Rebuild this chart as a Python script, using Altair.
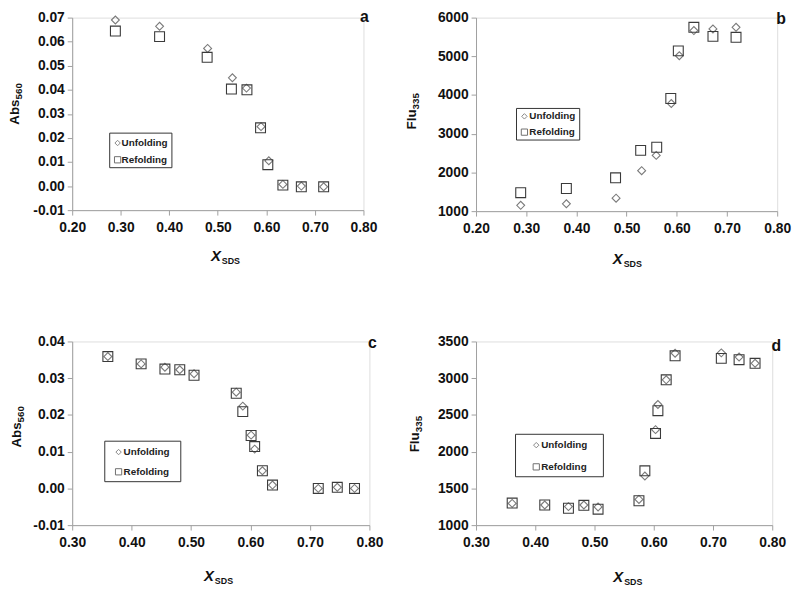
import altair as alt
import pandas as pd

# ---------------- data ----------------
series_names = ["Unfolding", "Refolding"]

ab_x_unf = [0.289, 0.380, 0.479, 0.530, 0.559, 0.589, 0.605, 0.634, 0.672, 0.718]
ab_x_ref = [0.289, 0.380, 0.478, 0.528, 0.560, 0.588, 0.603, 0.634, 0.672, 0.718]
a_y_unf = [0.0690, 0.0664, 0.0572, 0.0450, 0.0407, 0.0247, 0.0105, 0.0007, 0.0000, -0.0003]
a_y_ref = [0.0644, 0.0621, 0.0535, 0.0403, 0.0400, 0.0242, 0.0089, 0.0004, -0.0003, -0.0003]
b_y_unf = [1150, 1190, 1335, 2045, 2440, 3780, 5015, 5665, 5707, 5750]
b_y_ref = [1477, 1585, 1860, 2570, 2650, 3910, 5140, 5750, 5515, 5490]

c_x = [0.360, 0.416, 0.456, 0.481, 0.505, 0.576, 0.587, 0.601, 0.607, 0.620, 0.637, 0.714, 0.746, 0.775]
c_y_unf = [0.0359, 0.0339, 0.0330, 0.0323, 0.0312, 0.0262, 0.0224, 0.0145, 0.0107, 0.0048, 0.0009, 0.0000, 0.0003, 0.0000]
c_y_ref = [0.0359, 0.0339, 0.0325, 0.0323, 0.0308, 0.0259, 0.0209, 0.0144, 0.0114, 0.0048, 0.0009, 0.0000, 0.0003, 0.0000]

d_x = [0.361, 0.416, 0.456, 0.482, 0.506, 0.575, 0.585, 0.603, 0.607, 0.621, 0.636, 0.714, 0.744, 0.771]
d_y_unf = [1296, 1274, 1252, 1274, 1248, 1350, 1668, 2300, 2642, 2978, 3340, 3345, 3288, 3203]
d_y_ref = [1300, 1274, 1230, 1270, 1217, 1332, 1739, 2248, 2558, 2978, 3305, 3270, 3252, 3203]

x_ticks_top = [0.20, 0.30, 0.40, 0.50, 0.60, 0.70, 0.80]
x_ticks_bottom = [0.30, 0.40, 0.50, 0.60, 0.70, 0.80]
a_y_ticks = [-0.01, 0.00, 0.01, 0.02, 0.03, 0.04, 0.05, 0.06, 0.07]
b_y_ticks = [1000, 2000, 3000, 4000, 5000, 6000]
c_y_ticks = [-0.01, 0.00, 0.01, 0.02, 0.03, 0.04]
d_y_ticks = [1000, 1500, 2000, 2500, 3000, 3500]

FONT = "Liberation Sans"


def make_df(xu, yu, xr, yr):
    rows = []
    for x, y in zip(xu, yu):
        rows.append({"x": x, "y": y, "series": series_names[0]})
    for x, y in zip(xr, yr):
        rows.append({"x": x, "y": y, "series": series_names[1]})
    return pd.DataFrame(rows)


one = pd.DataFrame({"k": [0]})


def panel(df, xdom, xticks, ydom, yticks, yfmt, W, H, ymain, ysub, letter,
          letter_pos, leg, ytitle_x, ytitle_y, xt_off, xt_base):
    label_expr = "replace(format(datum.value, '%s'), '\u2212', '-')" % yfmt
    xax = alt.Axis(values=xticks, format=".2f", grid=False, labelFont=FONT,
                   labelFontSize=14, labelFontWeight="bold", labelColor="#111",
                   domainColor="#a0a0a0", tickColor="#a0a0a0", tickSize=5,
                   labelPadding=6, labelFlush=False)
    yax = alt.Axis(values=yticks, labelExpr=label_expr, grid=False, labelFont=FONT,
                   labelFontSize=14, labelFontWeight="bold", labelColor="#111",
                   domainColor="#a0a0a0", tickColor="#a0a0a0", tickSize=5,
                   labelPadding=3, labelFlush=False)
    pts = alt.Chart(df).mark_point(filled=False, strokeWidth=1.1, opacity=1).encode(
        x=alt.X("x:Q", title=None, axis=xax,
                scale=alt.Scale(domain=xdom, nice=False, zero=False)),
        y=alt.Y("y:Q", title=None, axis=yax,
                scale=alt.Scale(domain=ydom, nice=False, zero=False)),
        shape=alt.Shape("series:N", legend=None,
                        scale=alt.Scale(domain=series_names, range=["diamond", "square"])),
        stroke=alt.Stroke("series:N", legend=None,
                          scale=alt.Scale(domain=series_names, range=["#7a7a7a", "#3a3a3a"])),
        size=alt.Size("series:N", legend=None,
                      scale=alt.Scale(domain=series_names, range=[64, 100])),
    )
    layers = [pts]
    # panel letter
    layers.append(alt.Chart(one).mark_text(text=letter, font=FONT, fontSize=16,
                                           fontWeight="bold", color="#111",
                                           baseline="middle", align="center").encode(
        x=alt.value(letter_pos[0]), y=alt.value(letter_pos[1])))
    # legend box
    lx0, ly0, lx1, ly1, sx, tx, r1, r2 = leg
    layers.append(alt.Chart(one).mark_rect(fill="white", stroke="#333", strokeWidth=1).encode(
        x=alt.value(lx0), x2=alt.value(lx1), y=alt.value(ly0), y2=alt.value(ly1)))
    layers.append(alt.Chart(one).mark_point(shape="diamond", size=30, filled=False,
                                            stroke="#555", strokeWidth=1).encode(
        x=alt.value(sx), y=alt.value(r1)))
    layers.append(alt.Chart(one).mark_point(shape="square", size=40, filled=False,
                                            stroke="#333", strokeWidth=1).encode(
        x=alt.value(sx), y=alt.value(r2)))
    for name, ry in zip(series_names, [r1, r2]):
        layers.append(alt.Chart(one).mark_text(text=name, font=FONT, fontSize=10,
                                               fontWeight="bold", color="#222",
                                               align="left", baseline="middle").encode(
            x=alt.value(tx), y=alt.value(ry)))
    # y title (rotated, with subscript)
    layers.append(alt.Chart(one).mark_text(text=ymain, font=FONT, fontSize=13.5,
                                           fontWeight="bold", color="#111", angle=270,
                                           align="right", baseline="alphabetic").encode(
        x=alt.value(ytitle_x), y=alt.value(ytitle_y)))
    layers.append(alt.Chart(one).mark_text(text=ysub, font=FONT, fontSize=10,
                                           fontWeight="bold", color="#111", angle=270,
                                           align="left", baseline="alphabetic").encode(
        x=alt.value(ytitle_x + 3), y=alt.value(ytitle_y)))
    # x title "X" with subscript "SDS"
    xc = W / 2 + xt_off
    layers.append(alt.Chart(one).mark_text(text="X", font=FONT, fontSize=15,
                                           fontWeight="bold", fontStyle="italic",
                                           color="#111", align="right",
                                           baseline="alphabetic").encode(
        x=alt.value(xc - 3), y=alt.value(H + xt_base)))
    layers.append(alt.Chart(one).mark_text(text="SDS", font=FONT, fontSize=9,
                                           fontWeight="bold", color="#111", align="left",
                                           baseline="alphabetic").encode(
        x=alt.value(xc - 2), y=alt.value(H + xt_base + 3)))
    return alt.layer(*layers).properties(width=W, height=H)


df_a = make_df(ab_x_unf, a_y_unf, ab_x_ref, a_y_ref)
df_b = make_df(ab_x_unf, b_y_unf, ab_x_ref, b_y_ref)
df_c = make_df(c_x, c_y_unf, c_x, c_y_ref)
df_d = make_df(d_x, d_y_unf, d_x, d_y_ref)

pa = panel(df_a, [0.2, 0.8], x_ticks_top, [-0.01, 0.07], a_y_ticks, ".2f", 295, 195,
           "Abs", "560", "a", (296, -1),
           (38, 117, 101, 152, 46, 50, 127, 144), -54, 83, 6, 52)
pb = panel(df_b, [0.2, 0.8], x_ticks_top, [1000, 6000], b_y_ticks, "d", 305, 196,
           "Flu", "335", "b", (309, 1),
           (41, 92, 105, 124, 49, 54, 100, 116), -61, 93, -1, 54)
pc = panel(df_c, [0.3, 0.8], x_ticks_bottom, [-0.01, 0.04], c_y_ticks, ".2f", 301, 186,
           "Abs", "560", "c", (304, 2),
           (33, 101, 110, 142, 47, 52, 112, 132), -52, 82, -4, 57)
pd_ = panel(df_d, [0.3, 0.8], x_ticks_bottom, [1000, 3500], d_y_ticks, "d", 300, 186,
            "Flu", "335", "d", (304, 5),
            (40, 94, 129, 137, 61, 66, 105, 127), -58, 92, 2, 58)

top = alt.hconcat(pa, pb, spacing=26)
bottom = alt.hconcat(pc, pd_, spacing=23)
chart = alt.vconcat(top, bottom, spacing=64).properties(
    padding={"left": -1, "top": -4, "right": 0, "bottom": 0}
).configure_view(stroke=None).configure(background="white")

chart.save("out.html", embed_options={"renderer": "svg", "actions": False})
